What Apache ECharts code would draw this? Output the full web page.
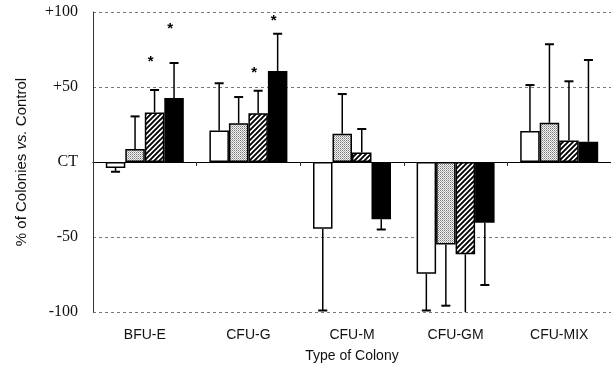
<!DOCTYPE html>
<html>
<head>
<meta charset="utf-8">
<script src="https://cdn.jsdelivr.net/npm/echarts@6/dist/echarts.min.js"></script>
<style>
  html, body { margin: 0; padding: 0; background: #fff; }
  #chart { width: 611px; height: 368px; }
</style>
</head>
<body>
<div id="chart"></div>
<script>
// Colony types on the x axis
const categories = ['BFU-E', 'CFU-G', 'CFU-M', 'CFU-GM', 'CFU-MIX'];

// Four treatments, % change of colonies vs. control (CT = 0)
const seriesNames = ['Treatment 1', 'Treatment 2', 'Treatment 3', 'Treatment 4'];
const valuesWhite   = [-4.0, 21.0, -44.5, -74.5, 20.7];
const valuesDotted  = [8.7, 25.8, 18.9, -55.0, 26.2];
const valuesHatched = [33.0, 32.5, 6.4, -61.5, 14.4];
const valuesBlack   = [42.7, 60.7, -38.2, -40.5, 13.5];

// One-sided error bars (drawn away from zero)
const errWhite   = [2.5, 31.5, 54.5, 24.5, 30.6];
const errDotted  = [21.7, 17.5, 26.4, 40.8, 52.3];
const errHatched = [15.0, 15.0, 15.6, 42.0, 39.4];
const errBlack   = [23.3, 24.8, 6.8, 41.5, 54.5];

// Significance marks: height of the asterisk, null = none
const starHatched = [69, 61.5, null, null, null];
const starBlack   = [91, 96, null, null, null];

// y axis ticks and their labels
const yTicks = [-100, -50, 0, 50, 100];
const yTickLabels = ['-100', '-50', 'CT', '+50', '+100'];

const BAR_W = 19.5;

function makeHatch() {
  const n = 5;
  const c = document.createElement('canvas');
  c.width = n; c.height = n;
  const g = c.getContext('2d');
  g.fillStyle = '#fff';
  g.fillRect(0, 0, n, n);
  g.strokeStyle = '#000';
  g.lineWidth = 1.9;
  g.beginPath();
  g.moveTo(-1, n + 1); g.lineTo(n + 1, -1);
  g.moveTo(-1, 1); g.lineTo(1, -1);
  g.moveTo(n - 1, n + 1); g.lineTo(n + 1, n - 1);
  g.stroke();
  return c;
}

function makeStipple() {
  const c = document.createElement('canvas');
  c.width = 2; c.height = 2;
  const g = c.getContext('2d');
  g.fillStyle = '#f2f2f2'; g.fillRect(0, 0, 2, 2);
  g.fillStyle = '#7a7a7a'; g.fillRect(0, 0, 1, 1);
  g.fillStyle = '#b0b0b0'; g.fillRect(1, 1, 1, 1);
  return c;
}

const fills = [
  '#ffffff',
  { image: makeStipple(), repeat: 'repeat' },
  { image: makeHatch(), repeat: 'repeat' },
  '#000000'
];

const values = [valuesWhite, valuesDotted, valuesHatched, valuesBlack];
const errs = [errWhite, errDotted, errHatched, errBlack];
const stars = [null, null, starHatched, starBlack];

const barSeries = values.map((vals, s) => ({
  name: seriesNames[s],
  type: 'bar',
  data: vals,
  barWidth: BAR_W,
  barGap: '0%',
  itemStyle: { color: fills[s], borderColor: '#000', borderWidth: 1.5 },
  z: 2
}));

const errData = [];
values.forEach((vals, s) => vals.forEach((v, i) => errData.push([i, s, v, errs[s][i]])));

const starData = [];
stars.forEach((arr, s) => { if (arr) arr.forEach((h, i) => { if (h != null) starData.push([i, s, h]); }); });

const errorSeries = {
  type: 'custom',
  data: errData,
  clip: true,
  z: 3,
  encode: { x: 0, y: 2 },
  renderItem: function (params, api) {
    const cat = api.value(0), s = api.value(1), v = api.value(2), e = api.value(3);
    const end = v >= 0 ? v + e : v - e;
    const p0 = api.coord([cat, v]);
    const p1 = api.coord([cat, end]);
    const x = p0[0] + (s - 1.5) * BAR_W;
    return {
      type: 'group',
      children: [
        { type: 'line', shape: { x1: x, y1: p0[1], x2: x, y2: p1[1] }, style: { stroke: '#000', lineWidth: 1.5 } },
        { type: 'line', shape: { x1: x - 4.5, y1: p1[1], x2: x + 4.5, y2: p1[1] }, style: { stroke: '#000', lineWidth: 2 } }
      ]
    };
  }
};

const starSeries = {
  type: 'custom',
  data: starData,
  z: 4,
  encode: { x: 0, y: 2 },
  renderItem: function (params, api) {
    const cat = api.value(0), s = api.value(1), h = api.value(2);
    const p = api.coord([cat, h]);
    const x = p[0] + (s - 1.5) * BAR_W - 4;
    return {
      type: 'text',
      x: x, y: p[1] + 3,
      style: { text: '*', fill: '#000', font: 'bold 15px "Liberation Sans"', align: 'center', verticalAlign: 'middle' }
    };
  }
};

const chart = echarts.init(document.getElementById('chart'), null, { renderer: 'canvas' });
chart.setOption({
  animation: false,
  backgroundColor: '#fff',
  grid: { left: 93, top: 12, width: 525, height: 300, containLabel: false },
  xAxis: [
    {
      type: 'category',
      data: categories,
      position: 'bottom',
      axisLine: { show: false, onZero: false },
      axisTick: { show: false },
      axisLabel: { fontFamily: 'Liberation Sans', fontSize: 14, color: '#111', margin: 16 },
      name: 'Type of Colony',
      nameLocation: 'middle',
      nameGap: 37,
      nameTextStyle: { fontFamily: 'Liberation Sans', fontSize: 14, color: '#111' }
    },
    {
      type: 'category',
      data: categories,
      position: 'bottom',
      axisLine: { show: true, onZero: true, lineStyle: { color: '#000', width: 1.2 } },
      axisTick: { show: true, length: 4, lineStyle: { color: '#333', width: 1 } },
      axisLabel: { show: false }
    }
  ],
  yAxis: {
    type: 'value',
    min: -100,
    max: 100,
    interval: 50,
    axisLine: { show: true, lineStyle: { color: '#333', width: 1 } },
    axisTick: { show: false },
    splitLine: { show: true, lineStyle: { color: '#777', width: 1, type: [3, 3] } },
    axisLabel: {
      fontFamily: 'Liberation Serif',
      fontSize: 16,
      color: '#111',
      margin: 15,
      formatter: function (v) {
        const k = yTicks.indexOf(v);
        return k >= 0 ? yTickLabels[k] : '';
      }
    },
    name: '{a|% of Colonies }{b|vs.}{a| Control}',
    nameLocation: 'middle',
    nameGap: 64,
    nameTextStyle: {
      rich: {
        a: { fontFamily: 'Liberation Sans', fontSize: 15, color: '#111' },
        b: { fontFamily: 'Liberation Sans', fontSize: 15, fontStyle: 'italic', color: '#111' }
      }
    }
  },
  series: barSeries.concat([errorSeries, starSeries])
});
</script>
</body>
</html>
